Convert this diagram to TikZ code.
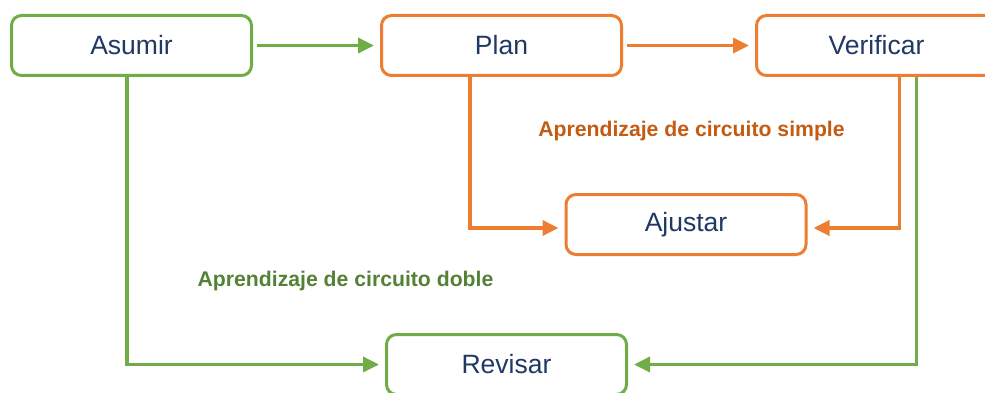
\documentclass[tikz,border=0pt]{standalone}
\usepackage{fontspec}
\setmainfont{Liberation Sans}
\usetikzlibrary{arrows.meta}
\definecolor{cgreen}{HTML}{70AD47}
\definecolor{corange}{HTML}{ED7D31}
\definecolor{cnavy}{HTML}{1F3864}
\definecolor{corlabel}{HTML}{C55A11}
\definecolor{cgrlabel}{HTML}{538135}
\tikzset{
  box/.style={draw, line width=3pt, rounded corners=10pt, minimum width=240pt, minimum height=60pt,
    inner sep=0pt, text=cnavy, font=\fontsize{26.5}{30}\selectfont, fill=white},
  gbox/.style={box, draw=cgreen},
  obox/.style={box, draw=corange},
  conn/.style={line width=3.5pt, -{Triangle[length=16pt,width=15pt]}, shorten >=6pt},
  gconn/.style={conn, draw=cgreen},
  oconn/.style={conn, draw=corange},
  lbl/.style={font=\fontsize{21.2}{24}\selectfont\bfseries, inner sep=0pt}
}
\begin{document}
\begin{tikzpicture}[x=1pt,y=-1pt]
\useasboundingbox (0,0) rectangle (985,393);
\clip (0,0) rectangle (985,393);
\node[gbox] (asumir) at (131.5,45.5) {Asumir};
\node[obox] (plan) at (501.5,45.5) {Plan};
\node[obox] (verif) at (876.5,45.5) {Verificar};
\node[obox] (ajustar) at (686,224.5) {Ajustar};
\node[gbox] (revisar) at (506.5,364.5) {Revisar};
\node[lbl, text=corlabel] (simple) at (691.5,131) {Aprendizaje de circuito simple};
\node[lbl, text=cgrlabel] (doble) at (345.5,281) {Aprendizaje de circuito doble};
\draw[gconn, shorten <=4pt] (asumir.east) -- (plan.west);
\draw[oconn, shorten <=4pt] (plan.east) -- (verif.west);
\draw[oconn] ([xshift=-31.5pt]plan.south) |- ([yshift=-3.5pt]ajustar.west);
\draw[oconn] ([xshift=23pt]verif.south) |- ([yshift=-3.5pt]ajustar.east);
\draw[gconn] ([xshift=-4.5pt]asumir.south) |- (revisar.west);
\draw[gconn] ([xshift=40pt]verif.south) |- (revisar.east);
\end{tikzpicture}
\end{document}
